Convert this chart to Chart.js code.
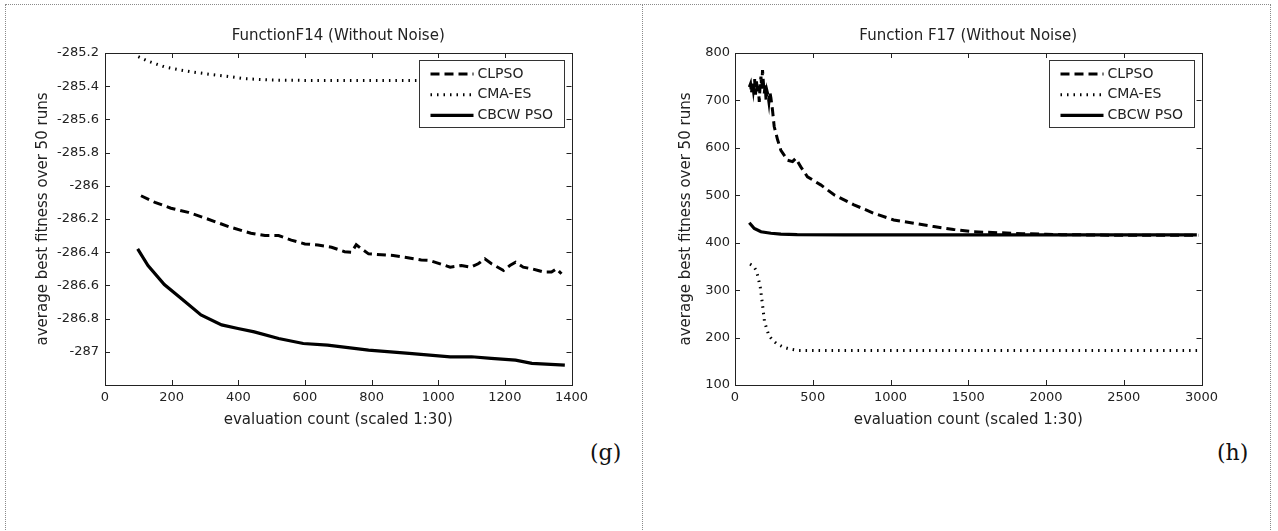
<!DOCTYPE html>
<html lang="en">
<head>
<meta charset="UTF-8">
<title>F14 / F17 convergence</title>
<script src="https://cdn.jsdelivr.net/npm/chart.js"></script>
<style>
body { margin:0; background:#fff; width:1278px; height:531px; overflow:hidden; position:relative; }
#frame { position:absolute; left:5px; top:4px; width:1266px; height:600px; border:1px dotted #8a8a8a; border-bottom:none; box-sizing:border-box; }
#divider { position:absolute; left:642px; top:4px; height:600px; border-left:1px dotted #8a8a8a; }
canvas { position:absolute; top:0; }
#c14 { left:0; }
#c17 { left:640px; }
.tag { position:absolute; font-family:"DejaVu Serif", serif; font-size:22px; line-height:26px; color:#111; }
</style>
</head>
<body>
<div id="frame"></div>
<div id="divider"></div>
<canvas id="c14" width="640" height="440"></canvas>
<canvas id="c17" width="640" height="440"></canvas>
<div class="tag" style="left:590px; top:440px">(g)</div>
<div class="tag" style="left:1217px; top:440px">(h)</div>
<script>
// ---- F14 data ----
const f14XTicks = [0, 200, 400, 600, 800, 1000, 1200, 1400];
const f14YTicks = [-287, -286.8, -286.6, -286.4, -286.2, -286, -285.8, -285.6, -285.4, -285.2];

const f14ClpsoX = [108, 150, 198, 250, 308, 374, 438, 480, 521, 559, 600, 639, 680, 719, 740, 754, 770, 791, 830, 865, 900, 949, 975, 1036, 1070, 1098, 1120, 1140, 1160, 1196, 1215, 1232, 1255, 1281, 1300, 1318, 1340, 1355, 1370];
const f14ClpsoY = [-286.06, -286.10, -286.135, -286.16, -286.2, -286.248, -286.286, -286.3, -286.3, -286.327, -286.35, -286.357, -286.37, -286.397, -286.40, -286.355, -286.38, -286.41, -286.415, -286.42, -286.43, -286.447, -286.45, -286.49, -286.48, -286.49, -286.47, -286.44, -286.47, -286.51, -286.48, -286.46, -286.49, -286.50, -286.51, -286.52, -286.52, -286.50, -286.53];

const f14CmaX = [100, 130, 178, 220, 258, 320, 378, 420, 499, 600, 800, 1000, 1200, 1370];
const f14CmaY = [-285.222, -285.25, -285.283, -285.30, -285.313, -285.33, -285.343, -285.355, -285.363, -285.365, -285.365, -285.365, -285.365, -285.365];

const f14CbcwX = [98, 129, 178, 227, 288, 350, 399, 448, 521, 595, 668, 791, 913, 1036, 1100, 1159, 1232, 1281, 1380];
const f14CbcwY = [-286.38, -286.48, -286.595, -286.676, -286.778, -286.838, -286.86, -286.88, -286.92, -286.95, -286.96, -286.99, -287.01, -287.03, -287.03, -287.04, -287.05, -287.07, -287.08];

// ---- F17 data ----
const f17XTicks = [0, 500, 1000, 1500, 2000, 2500, 3000];
const f17YTicks = [100, 200, 300, 400, 500, 600, 700, 800];

const f17ClpsoX = [92, 100, 106, 112, 118, 126, 132, 138, 145, 150, 156, 162, 167, 172, 177, 182, 188, 194, 200, 206, 212, 218, 224, 231, 241, 252, 274, 295, 338, 370, 391, 423, 466, 551, 637, 765, 893, 1021, 1149, 1278, 1406, 1534, 1700, 1850, 2000, 2100, 2400, 2700, 2980];
const f17ClpsoY = [728, 735, 715, 738, 722, 745, 712, 740, 718, 730, 697, 735, 750, 725, 764, 740, 715, 732, 700, 720, 712, 697, 718, 705, 680, 645, 617, 595, 574, 571, 578, 560, 539, 522, 501, 480, 462, 448, 441, 434, 428, 423, 421, 419, 418, 417, 416, 416, 416];

const f17CmaX = [97, 120, 137, 150, 163, 177, 190, 217, 240, 269, 310, 349, 401, 600, 1000, 1500, 2000, 2500, 2980];
const f17CmaY = [355, 350, 341, 325, 305, 269, 233, 205, 195, 187, 180, 176, 173, 172.5, 172.5, 172.5, 172.5, 172.5, 172.5];

const f17CbcwX = [92, 124, 167, 231, 295, 400, 700, 1000, 1500, 2000, 2500, 2970];
const f17CbcwY = [442, 430, 423, 420, 418, 417, 416.5, 416.5, 416.5, 416.5, 416.5, 416.5];

const seriesNames = ['CLPSO', 'CMA-ES', 'CBCW PSO'];

const FONT = "'DejaVu Sans', sans-serif";
const TXT = '#222';

// line styles per series: dashed, dotted, solid
const styles = [
  { width: 3, dash: [9, 5] },
  { width: 3, dash: [1.5, 5] },
  { width: 3.2, dash: [] }
];

// MATLAB-like axes box: frame, inward ticks on all sides, boxed legend
const boxPlugin = {
  id: 'matlabBox',
  afterDatasetsDraw(chart) {
    const { ctx, chartArea: a, scales: { x, y } } = chart;
    ctx.save();
    ctx.strokeStyle = '#222';
    ctx.lineWidth = 1;
    ctx.strokeRect(Math.round(a.left) + 0.5, Math.round(a.top) + 0.5, Math.round(a.width), Math.round(a.height));
    ctx.beginPath();
    x.ticks.forEach(t => {
      const px = Math.round(x.getPixelForValue(t.value)) + 0.5;
      ctx.moveTo(px, a.bottom); ctx.lineTo(px, a.bottom - 5);
      ctx.moveTo(px, a.top); ctx.lineTo(px, a.top + 5);
    });
    y.ticks.forEach(t => {
      const py = Math.round(y.getPixelForValue(t.value)) + 0.5;
      ctx.moveTo(a.left, py); ctx.lineTo(a.left + 5, py);
      ctx.moveTo(a.right, py); ctx.lineTo(a.right - 5, py);
    });
    ctx.stroke();
    ctx.restore();
  },
  afterDraw(chart) {
    const { ctx, chartArea: a } = chart;
    const w = 145, h = 67;
    const left = Math.round(a.right - 7.5 - w) + 0.5;
    const top = Math.round(a.top + 7) + 0.5;
    ctx.save();
    ctx.fillStyle = '#fff';
    ctx.strokeStyle = '#333';
    ctx.lineWidth = 1;
    ctx.fillRect(left, top, w, h);
    ctx.strokeRect(left, top, w, h);
    chart.data.datasets.forEach((ds, i) => {
      const cy = top + 13.5 + 20.7 * i;
      ctx.beginPath();
      ctx.strokeStyle = '#000';
      ctx.lineWidth = ds.borderWidth;
      ctx.setLineDash(ds.borderDash);
      ctx.moveTo(left + 11, cy);
      ctx.lineTo(left + 54, cy);
      ctx.stroke();
      ctx.setLineDash([]);
      ctx.fillStyle = TXT;
      ctx.font = '14px ' + FONT;
      ctx.textBaseline = 'middle';
      ctx.fillText(ds.label, left + 58, cy);
    });
    ctx.restore();
  }
};

function makeChart(id, cfg) {
  const datasets = cfg.series.map((s, i) => ({
    label: seriesNames[i],
    data: s.x.map((v, j) => ({ x: v, y: s.y[j] })),
    borderColor: '#000',
    borderWidth: styles[i].width,
    borderDash: styles[i].dash,
    pointRadius: 0,
    tension: 0,
    fill: false
  }));
  return new Chart(document.getElementById(id), {
    type: 'line',
    data: { datasets },
    options: {
      responsive: false,
      animation: false,
      devicePixelRatio: 1,
      layout: { padding: { left: 0, top: 0, right: cfg.padRight, bottom: 0 } },
      plugins: {
        legend: { display: false },
        tooltip: { enabled: false },
        title: {
          display: true, text: cfg.title, fullSize: false, color: TXT,
          font: { family: FONT, size: 15, weight: 'normal' },
          padding: { top: 27, bottom: 8 }
        }
      },
      scales: {
        x: {
          type: 'linear', min: cfg.xTicks[0], max: cfg.xTicks[cfg.xTicks.length - 1],
          afterBuildTicks: s => { s.ticks = cfg.xTicks.map(v => ({ value: v })); },
          afterFit: s => { s.height = 55; },
          grid: { display: false, drawTicks: false }, border: { display: false },
          ticks: { padding: 5, color: TXT, font: { family: FONT, size: 13 }, maxRotation: 0, autoSkip: false, callback: v => String(v) },
          title: { display: true, text: 'evaluation count (scaled 1:30)', color: TXT, font: { family: FONT, size: 15 }, padding: { top: 0, bottom: 11 } }
        },
        y: {
          type: 'linear', min: cfg.yMin, max: cfg.yMax,
          afterBuildTicks: s => { s.ticks = cfg.yTicks.map(v => ({ value: v })); },
          afterFit: s => { s.width = cfg.yWidth; },
          grid: { display: false, drawTicks: false }, border: { display: false },
          ticks: { padding: cfg.yPad, color: TXT, font: { family: FONT, size: 13 }, autoSkip: false, callback: v => String(v) },
          title: { display: true, text: 'average best fitness over 50 runs', color: TXT, font: { family: FONT, size: 15 }, padding: { top: cfg.yTitlePad, bottom: 0 } }
        }
      }
    },
    plugins: [boxPlugin]
  });
}

makeChart('c14', {
  title: 'FunctionF14 (Without Noise)',
  xTicks: f14XTicks, yTicks: f14YTicks, yMin: -287.2, yMax: -285.2,
  yWidth: 105, yPad: 6, yTitlePad: 34, padRight: 68.5,
  series: [
    { x: f14ClpsoX, y: f14ClpsoY },
    { x: f14CmaX, y: f14CmaY },
    { x: f14CbcwX, y: f14CbcwY }
  ]
});

makeChart('c17', {
  title: 'Function F17 (Without Noise)',
  xTicks: f17XTicks, yTicks: f17YTicks, yMin: 100, yMax: 800,
  yWidth: 95, yPad: 5, yTitlePad: 37, padRight: 78.5,
  series: [
    { x: f17ClpsoX, y: f17ClpsoY },
    { x: f17CmaX, y: f17CmaY },
    { x: f17CbcwX, y: f17CbcwY }
  ]
});
</script>
</body>
</html>
